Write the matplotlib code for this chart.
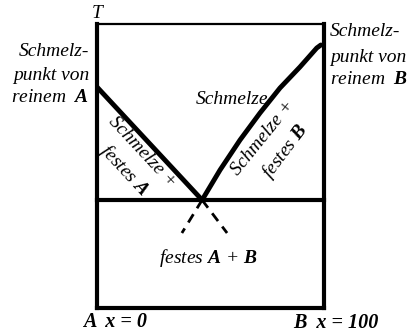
import matplotlib
matplotlib.use("Agg")
import matplotlib.pyplot as plt

# composition x (0..100), temperature in arbitrary units
left_liq_x = [0, 46.3]
left_liq_T = [221, 108]
right_liq_x = [46.3, 54.2, 63.0, 71.8, 80.6, 89.4, 96.8, 98.6]
right_liq_T = [108, 138, 168, 195, 220, 241, 260, 263]
eut_T = 108
dash_left_x = [46.3, 37.4]
dash_left_T = [108, 75]
dash_right_x = [46.3, 57.3]
dash_right_T = [108, 75]
T_top = 284

plt.rcParams["font.family"] = ["Liberation Serif", "DejaVu Serif"]
plt.rcParams["mathtext.fontset"] = "custom"
plt.rcParams["mathtext.it"] = "Liberation Serif:italic"
plt.rcParams["mathtext.bf"] = "Liberation Serif:italic:bold"
plt.rcParams["mathtext.rm"] = "Liberation Serif"

fig = plt.figure(figsize=(4.16, 3.35), dpi=100)
ax = fig.add_axes([97/416, 27/335, 227/416, 284/335])
ax.set_xlim(0, 100)
ax.set_ylim(0, T_top)
ax.axis("off")

def px(X, Y):
    return (X - 97) / 2.27, 308 - Y

k = "black"
ax.plot([0, 100], [T_top, T_top], color=k, lw=1.6, clip_on=False)
ax.plot([0, 0], [0, T_top], color=k, lw=3, clip_on=False)
ax.plot([100, 100], [0, T_top], color=k, lw=3, clip_on=False)
ax.plot([0, 100], [0, 0], color=k, lw=3, clip_on=False)
ax.plot([0, 100], [eut_T, eut_T], color=k, lw=3, clip_on=False)
ax.plot(left_liq_x, left_liq_T, color=k, lw=3.5, solid_capstyle="round")
ax.plot(right_liq_x, right_liq_T, color=k, lw=3.5, solid_capstyle="round",
        solid_joinstyle="round")
ax.plot(dash_left_x, dash_left_T, color=k, lw=2, dashes=(3.5, 2.5))
ax.plot(dash_right_x, dash_right_T, color=k, lw=2, dashes=(3.5, 2.5))

it = dict(style="italic", fontsize=14, color=k, clip_on=False)
bi = dict(style="italic", weight="bold", fontsize=14.5, color=k, clip_on=False)

ax.text(*px(97, 14), "T", ha="center", va="center", **it)
ax.text(*px(232, 99), "Schmelze", ha="center", va="center", **it)
ax.text(*px(208, 258), "festes $\\mathbf{A}$ + $\\mathbf{B}$", ha="center", va="center", **it)

ax.text(*px(89, 52), "Schmelz-", ha="right", va="center", **it)
ax.text(*px(89, 75), "punkt von", ha="right", va="center", **it)
ax.text(*px(89, 97), "reinem  $\\mathbf{A}$", ha="right", va="center", **it)

ax.text(*px(330, 32), "Schmelz-", ha="left", va="center", **it)
ax.text(*px(330, 57), "punkt von", ha="left", va="center", **it)
ax.text(*px(330, 80), "reinem  $\\mathbf{B}$", ha="left", va="center", **it)

ax.text(*px(142, 152), "Schmelze +", ha="center", va="center",
        rotation=-47, rotation_mode="anchor", **it)
ax.text(*px(124, 170), "festes $\\mathbf{A}$", ha="center", va="center",
        rotation=-47, rotation_mode="anchor", **it)
ax.text(*px(263, 138), "Schmelze +", ha="center", va="center",
        rotation=51, rotation_mode="anchor", **it)
ax.text(*px(285, 151), "festes $\\mathbf{B}$", ha="center", va="center",
        rotation=53, rotation_mode="anchor", **it)

ax.text(*px(83, 322), "A  x = 0", ha="left", va="center", **bi)
ax.text(*px(293, 323), "B  x = 100", ha="left", va="center", **bi)

fig.savefig("out.png", dpi=100)
